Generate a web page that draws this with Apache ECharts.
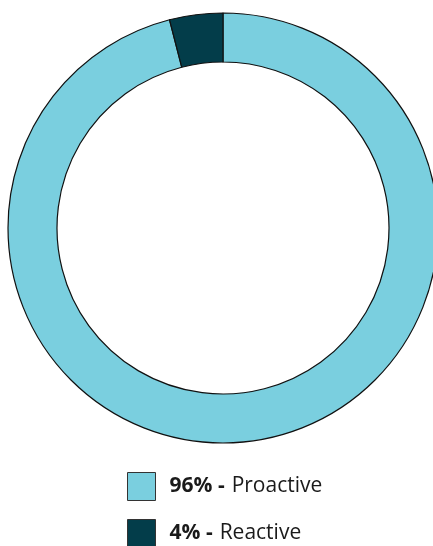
<!DOCTYPE html>
<html><head><meta charset="utf-8">
<script src="https://cdn.jsdelivr.net/npm/echarts@6/dist/echarts.min.js"></script>
<style>html,body{margin:0;padding:0;background:#fff}#c{width:433px;height:546px}</style>
</head><body><div id="c"></div>
<script>
const categories = ['Proactive', 'Reactive'];
const values = [96, 4];
const colors = ['#7ACFDF', '#033D4A'];

const chart = echarts.init(document.getElementById('c'), null, {renderer: 'canvas'});
const legendTops = [467, 514];
chart.setOption({
  animation: false,
  color: colors,
  legend: categories.map((c, k) => ({
    data: [c],
    orient: 'vertical',
    left: 122,
    top: legendTops[k],
    itemWidth: 28,
    itemHeight: 28,
    itemGap: 0,
    icon: 'rect',
    itemStyle: {borderColor: '#333', borderWidth: 1},
    selectedMode: false,
    formatter: function (name) {
      const i = categories.indexOf(name);
      return '{b|' + values[i] + '% -}{r|' + name + '}';
    },
    textStyle: {
      padding: [0, 0, 0, 9],
      rich: {
        b: {fontFamily: 'Open Sans', fontWeight: 'bold', fontSize: 21, color: '#1a1a1a'},
        r: {fontFamily: 'Open Sans', fontSize: 21, color: '#1a1a1a', padding: [0, 0, 0, 7]}
      }
    }
  })),
  series: [{
    type: 'pie',
    center: [223, 228],
    radius: [166, 215],
    startAngle: 90,
    clockwise: true,
    label: {show: false},
    labelLine: {show: false},
    emphasis: {disabled: true},
    itemStyle: {borderColor: '#111', borderWidth: 1.2},
    data: categories.map((c, i) => ({name: c, value: values[i]}))
  }]
});
</script></body></html>
